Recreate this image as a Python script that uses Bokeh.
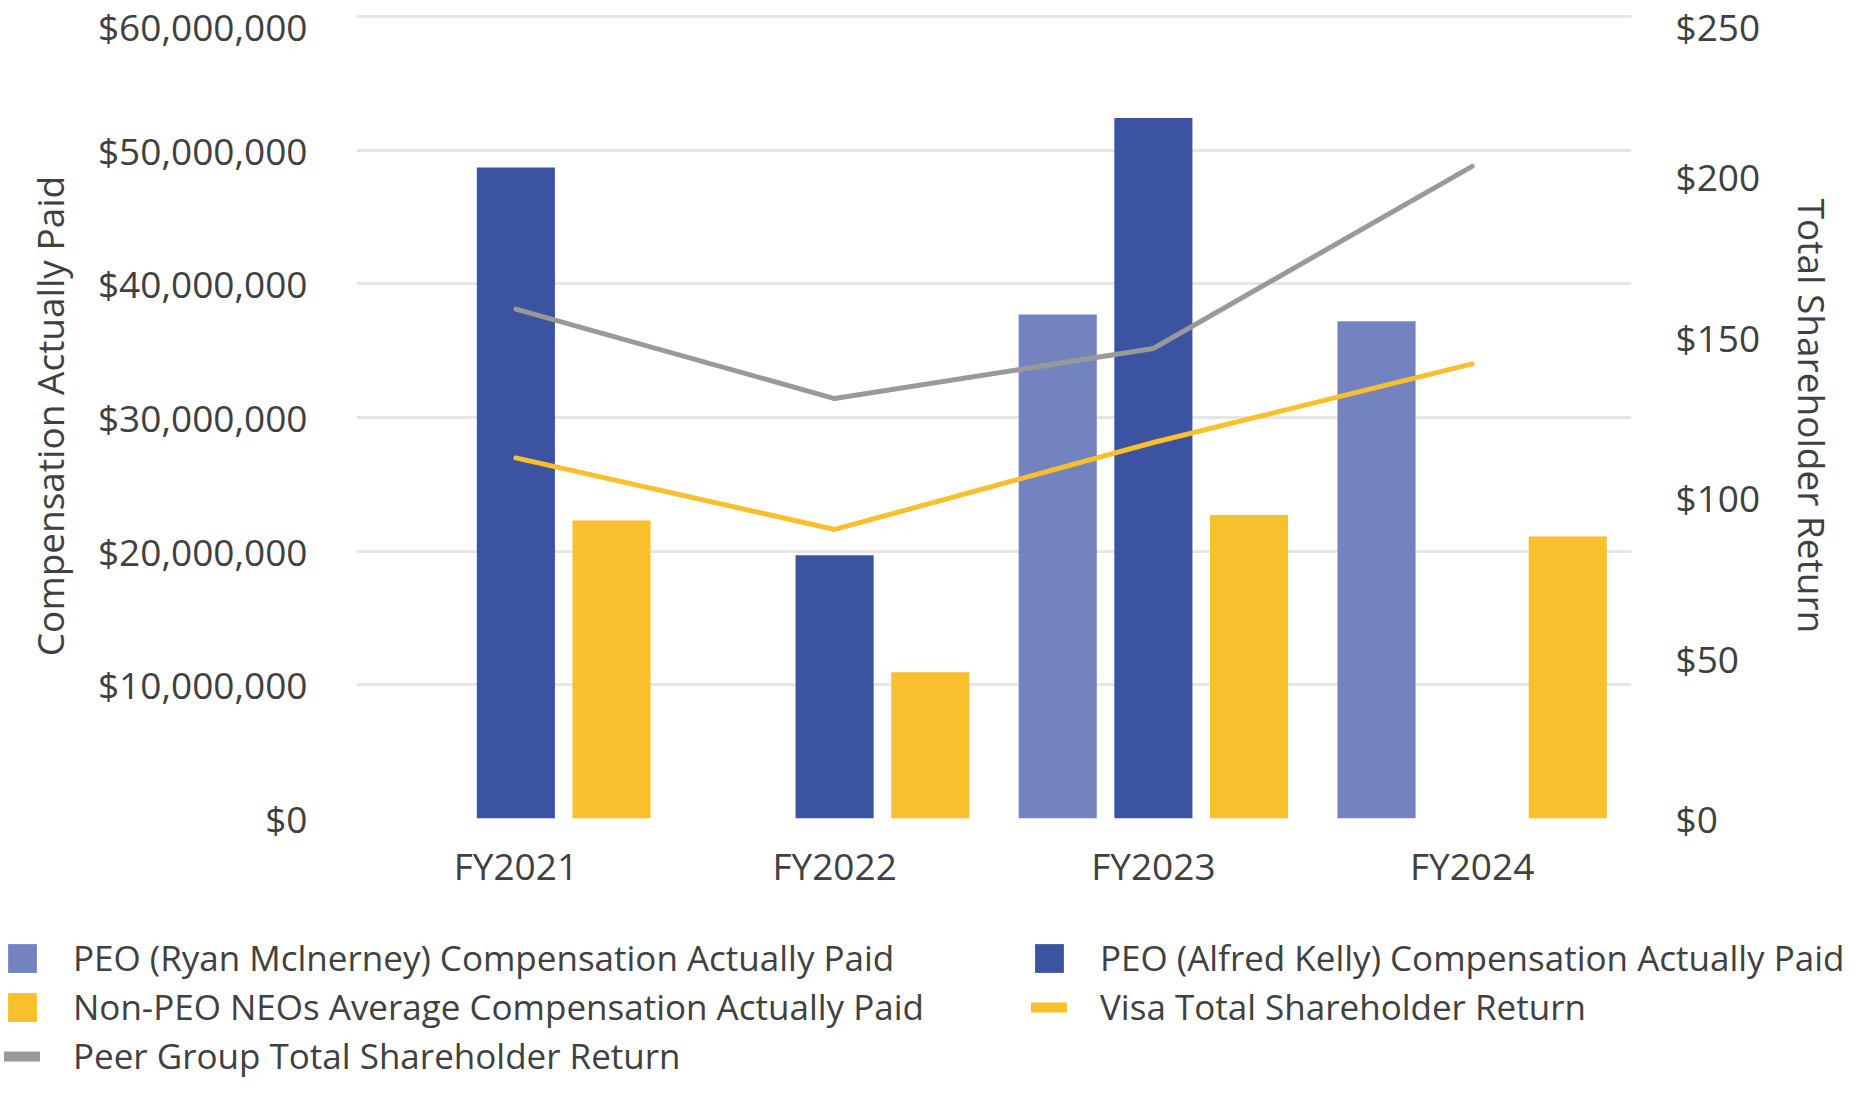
from bokeh.plotting import figure
from bokeh.models import (Range1d, LinearAxis, FixedTicker, NumeralTickFormatter,
                          Legend, LegendItem, ColumnDataSource)
from bokeh.transform import dodge
from bokeh.embed import file_html
from bokeh.resources import INLINE

years = ["FY2021", "FY2022", "FY2023", "FY2024"]
peo_mcinerney = [0, 0, 37.7e6, 37.2e6]
peo_kelly = [48.7e6, 19.7e6, 52.4e6, 0]
non_peo_avg = [22.3e6, 10.95e6, 22.7e6, 21.1e6]
visa_tsr = [112.4, 90.1, 117.2, 141.7]
peer_tsr = [158.8, 130.9, 146.5, 203.3]
left_ticks = [0, 10e6, 20e6, 30e6, 40e6, 50e6, 60e6]
right_ticks = [0, 50, 100, 150, 200, 250]
series_labels = ["PEO (Ryan Mclnerney) Compensation Actually Paid",
                 "PEO (Alfred Kelly) Compensation Actually Paid",
                 "Non-PEO NEOs Average Compensation Actually Paid",
                 "Visa Total Shareholder Return",
                 "Peer Group Total Shareholder Return"]

FONT = "Open Sans"
FS = "37px"
LFS = "35px"
TXT = "#404040"
C_LIGHT = "#7383c0"
C_DARK = "#3b53a0"
C_YELLOW = "#f9bf2c"
C_GRAY = "#999999"

W = 1847
H1 = 900
H2 = 1079 - H1

FRAME_TOP, FRAME_BOTTOM = 13, 818
scale = (FRAME_BOTTOM - FRAME_TOP) / (818 - 16)


def add_series(fig, line_w, visible):
    src = ColumnDataSource(dict(year=years, mc=peo_mcinerney, kelly=peo_kelly,
                                neo=non_peo_avg, visa=visa_tsr, peer=peer_tsr))
    bw = 0.245
    rs = []
    for col, off, colr in [("mc", -0.30, C_LIGHT), ("kelly", 0.0, C_DARK),
                           ("neo", 0.30, C_YELLOW)]:
        rs.append(fig.vbar(x=dodge("year", off, range=fig.x_range), top=col, width=bw,
                           source=src, fill_color=colr, line_color=None))
    rs.append(fig.line(x="year", y="visa", source=src, y_range_name="tsr",
                       line_color=C_YELLOW, line_width=line_w, line_cap="round"))
    rs.append(fig.line(x="year", y="peer", source=src, y_range_name="tsr",
                       line_color=C_GRAY, line_width=line_w, line_cap="round"))
    for r in rs:
        r.visible = visible
    return rs


p = figure(x_range=years, y_range=Range1d(0, 60e6 * scale), width=W, height=H1,
           output_backend="svg", toolbar_location=None,
           min_border_left=356, min_border_right=W - 1631,
           min_border_top=FRAME_TOP, min_border_bottom=H1 - FRAME_BOTTOM)
p.outline_line_color = None
p.extra_y_ranges = {"tsr": Range1d(0, 250 * scale)}
add_series(p, 5, True)

p.xgrid.grid_line_color = None
p.ygrid.grid_line_color = "#e6e6e6"
p.ygrid.grid_line_width = 3
p.ygrid.ticker = FixedTicker(ticks=left_ticks)
p.ygrid.level = "underlay"


def style_axis(ax):
    ax.axis_line_color = None
    ax.major_tick_line_color = None
    ax.minor_tick_line_color = None
    ax.major_tick_out = 0
    ax.major_tick_in = 0
    ax.minor_tick_out = 0
    ax.major_label_text_font = FONT
    ax.major_label_text_font_size = FS
    ax.major_label_text_color = TXT
    ax.axis_label_text_font = FONT
    ax.axis_label_text_font_size = FS
    ax.axis_label_text_color = TXT
    ax.axis_label_text_font_style = "normal"


yl = p.yaxis[0]
style_axis(yl)
yl.ticker = FixedTicker(ticks=left_ticks)
yl.formatter = NumeralTickFormatter(format="$0,0")
yl.axis_label = "Compensation Actually Paid"
yl.major_label_standoff = 49
yl.axis_label_standoff = 20

yr = LinearAxis(y_range_name="tsr", axis_label="Total Shareholder Return",
                ticker=FixedTicker(ticks=right_ticks),
                formatter=NumeralTickFormatter(format="$0,0"))
style_axis(yr)
yr.major_label_standoff = 44
yr.axis_label_standoff = 24
p.add_layout(yr, "right")

xa = p.xaxis[0]
style_axis(xa)
xa.major_label_standoff = 21

# legend panel: a full-width figure whose frame is the whole canvas
q = figure(width=W, height=H2, output_backend="svg", toolbar_location=None,
           x_range=years, y_range=Range1d(0, 60e6),
           x_axis_location=None, y_axis_location=None,
           min_border_left=0, min_border_right=0, min_border_top=0, min_border_bottom=0)
q.extra_y_ranges = {"tsr": Range1d(0, 250)}
q.outline_line_color = None
q.grid.visible = False
handles = add_series(q, 10, False)

legend = Legend(items=[LegendItem(label=lab, renderers=[g])
                       for lab, g in zip(series_labels, handles)],
                location=(4, 0), orientation="horizontal", ncols=2,
                label_text_font=FONT, label_text_font_size=LFS, label_text_color=TXT,
                glyph_width=36, glyph_height=36, label_standoff=33, label_width=956,
                spacing=2, padding=0, margin=0, border_line_color=None,
                background_fill_alpha=0, inactive_fill_alpha=0)
q.add_layout(legend)

open("out.html", "w").write(file_html([p, q], INLINE))
